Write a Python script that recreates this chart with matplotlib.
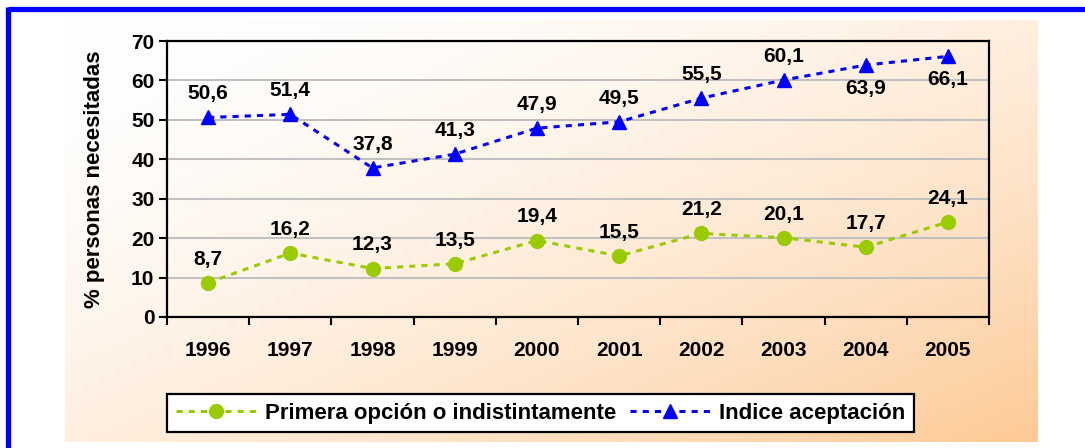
import numpy as np
import matplotlib
matplotlib.use("Agg")
import matplotlib.pyplot as plt
from matplotlib.lines import Line2D

years = ["1996", "1997", "1998", "1999", "2000", "2001", "2002", "2003", "2004", "2005"]
primera = [8.7, 16.2, 12.3, 13.5, 19.4, 15.5, 21.2, 20.1, 17.7, 24.1]
indice = [50.6, 51.4, 37.8, 41.3, 47.9, 49.5, 55.5, 60.1, 63.9, 66.1]
# labels below the marker for these points of "Indice"
indice_below = [False, False, False, False, False, False, False, False, True, True]

plt.rcParams['font.family'] = ['Liberation Sans', 'DejaVu Sans']
plt.rcParams['font.weight'] = 'bold'

W, H = 1085, 448
fig = plt.figure(figsize=(W / 100, H / 100), dpi=100)

# background gradient (white -> peach towards bottom right)
bg = fig.add_axes([65 / W, 1 - 442 / H, (1038 - 65) / W, (442 - 20) / H])
nx, ny = 400, 200
u = np.linspace(0, 1, nx)[None, :]
v = np.linspace(0, 1, ny)[:, None]
t = np.clip((u + v) / 2, 0, 1) ** 1.7
c0 = np.array([255, 255, 255]) / 255
c1 = np.array([253, 202, 150]) / 255
img = c0[None, None, :] * (1 - t[..., None]) + c1[None, None, :] * t[..., None]
bg.imshow(img, aspect='auto', extent=[0, 1, 1, 0])
bg.set_axis_off()

# blue frame (top and left edges)
fig.add_artist(Line2D([7.5 / W, 1.0], [1 - 9.5 / H, 1 - 9.5 / H], color='#0000FF', lw=3.8,
                      transform=fig.transFigure, solid_capstyle='butt'))
fig.add_artist(Line2D([7.5 / W, 7.5 / W], [0, 1 - 7 / H], color='#0000FF', lw=3.8,
                      transform=fig.transFigure, solid_capstyle='butt'))

ax = fig.add_axes([167 / W, 1 - 317 / H, (989 - 167) / W, (317 - 41) / H])
ax.patch.set_alpha(0)
x = np.arange(len(years))

ax.plot(x, primera, color='#99CC00', lw=2.2, linestyle=(0, (2, 2)), marker='o',
        markersize=10, markeredgecolor='#99CC00', label='Primera opción o indistintamente', zorder=3)
ax.plot(x, indice, color='#0000FF', lw=2.2, linestyle=(0, (2, 2)), marker='^',
        markersize=10, markeredgecolor='#0000FF', label='Indice aceptación', zorder=3)

for xi, val in zip(x, primera):
    ax.annotate(f"{val:.1f}".replace('.', ','), (xi, val), xytext=(0, 17), textcoords='offset points',
                ha='center', va='center', fontsize=15, fontweight='bold')
for xi, val, below in zip(x, indice, indice_below):
    off = -17 if below else 17
    ax.annotate(f"{val:.1f}".replace('.', ','), (xi, val), xytext=(0, off), textcoords='offset points',
                ha='center', va='center', fontsize=15, fontweight='bold')

ax.set_xlim(-0.5, len(years) - 0.5)
ax.set_ylim(0, 70)
ax.set_yticks(range(0, 71, 10))
ax.yaxis.grid(True, color='#C0C0C0', lw=1.5)
ax.set_axisbelow(True)

ax.set_xticks(x)
ax.set_xticklabels(years)
ax.set_xticks(np.arange(-0.5, len(years), 1), minor=True)
ax.tick_params(axis='x', which='major', length=0, pad=17, labelsize=15)
ax.tick_params(axis='x', which='minor', length=6, width=1.5, direction='out')
ax.tick_params(axis='y', length=6, width=1.5, direction='out', labelsize=15, pad=3)
for lab in ax.get_xticklabels() + ax.get_yticklabels():
    lab.set_fontweight('bold')
for s in ax.spines.values():
    s.set_linewidth(1.6)
    s.set_color('black')

ax.set_ylabel('% personas necesitadas', fontsize=16, fontweight='bold', labelpad=19)

leg = fig.legend(loc='center', bbox_to_anchor=((160 + 921) / 2 / W, 1 - 413 / H), ncol=2,
                 frameon=True, fancybox=False, edgecolor='black', framealpha=1,
                 prop={'weight': 'bold', 'size': 16}, handlelength=3.6, columnspacing=0.6,
                 handletextpad=0.4, borderpad=0.4)
leg.get_frame().set_linewidth(1.6)

fig.savefig('out.png', dpi=100)
